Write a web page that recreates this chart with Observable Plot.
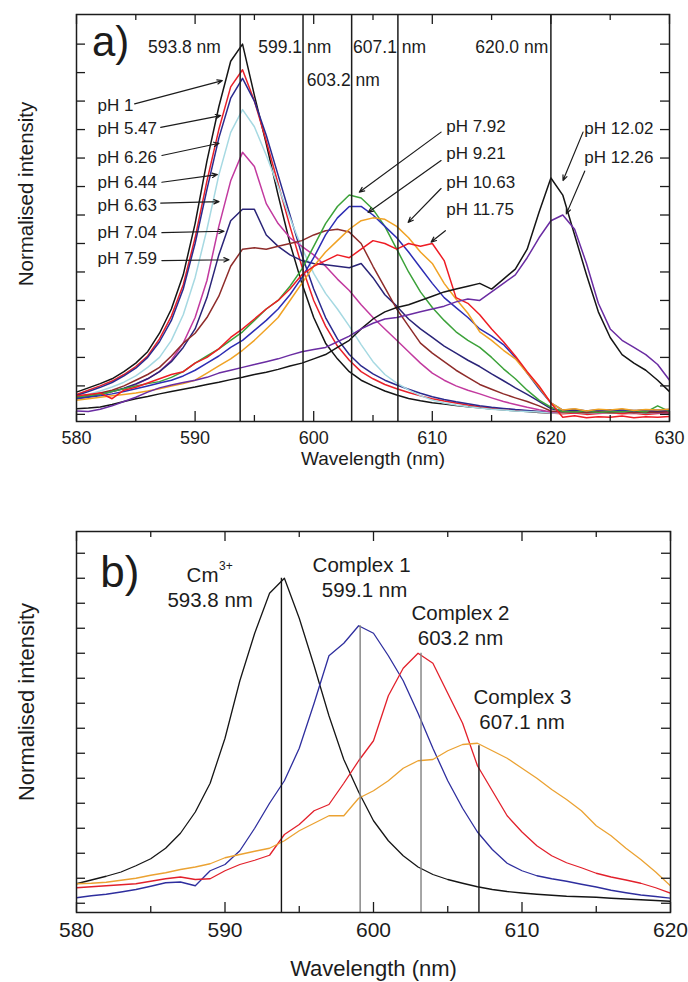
<!DOCTYPE html>
<html><head><meta charset="utf-8">
<script src="https://cdn.jsdelivr.net/npm/d3@7"></script>
<script src="https://cdn.jsdelivr.net/npm/@observablehq/plot@0.6"></script>
<style>
html,body{margin:0;padding:0;background:#fff;}
#chart{width:688px;}
#chart svg{display:block;}
</style></head><body><div id="chart"></div>
<script>
// ---------- Panel a data (wavelength 580..630 nm, 1 nm steps) ----------
const wavelengthsA = d3.range(580, 631);
const seriesA = ["pH 1","pH 5.47","pH 6.26","pH 6.44","pH 6.63","pH 7.04","pH 7.59","pH 7.92","pH 9.21","pH 10.63","pH 11.75","pH 12.02","pH 12.26"];
const colorsA = ["#151515","#e8202a","#2b2a8e","#a6d9e2","#c23a9f","#2a2478","#8e2c2a","#3ca23a","#2d2db4","#f0a224","#ee1c24","#151515","#6a2ca2"];

const pH_1    = [0.78,0.93,1.08,1.25,1.5,1.8,2.2,2.85,3.7,4.9,6.7, 8.9,10.8,12.4,13.0,11.2,9.5,7.7,6.0,4.6,3.4, 2.5,1.95,1.5,1.2,1.0,0.82,0.68,0.56,0.48,0.41, 0.36,0.31,0.27,0.23,0.19,0.16,0.13,0.1,0.07,0.05, 0.05,0.04,0.06,0.05,0.04,0.05,0.06,0.04,0.05,0.05];
const pH_5_47 = [0.7,0.85,1.0,1.17,1.4,1.68,2.05,2.65,3.45,4.55,6.2, 8.2,10.0,11.5,12.1,11.0,9.6,8.1,6.6,5.2,4.0, 3.1,2.4,1.9,1.5,1.25,1.05,0.9,0.77,0.65,0.55, 0.47,0.4,0.33,0.27,0.22,0.18,0.15,0.12,0.09,0.05, 0.02,0.05,0.0,0.03,0.06,0.02,0.04,0.0,0.03,0.05];
const pH_6_26 = [0.66,0.8,0.95,1.12,1.35,1.62,2.0,2.55,3.3,4.4,6.0, 7.9,9.7,11.1,11.8,11.0,9.8,8.4,7.0,5.6,4.4, 3.4,2.65,2.1,1.7,1.42,1.2,1.03,0.88,0.74,0.62, 0.52,0.44,0.37,0.3,0.25,0.21,0.17,0.14,0.1,0.06, 0.1,0.12,0.08,0.14,0.1,0.12,0.09,0.13,0.1,0.12];
const pH_6_44 = [0.6,0.7,0.82,0.96,1.13,1.35,1.65,2.0,2.6,3.5,4.8, 6.5,8.4,9.9,10.7,10.1,9.1,8.0,6.9,5.85,4.95, 4.25,3.7,3.1,2.45,1.85,1.4,1.1,0.86,0.66,0.5, 0.4,0.33,0.27,0.22,0.18,0.15,0.12,0.1,0.08,0.05, 0.06,0.08,0.05,0.07,0.06,0.08,0.05,0.07,0.06,0.07];
const pH_6_63 = [0.6,0.65,0.72,0.8,0.9,1.05,1.25,1.5,1.9,2.5,3.4, 4.7,6.6,8.2,9.2,8.7,7.4,6.7,6.2,5.9,5.6, 5.2,4.75,4.35,3.85,3.4,3.0,2.6,2.2,1.8,1.45, 1.2,1.0,0.85,0.72,0.58,0.45,0.35,0.25,0.16,0.08, 0.1,0.06,0.09,0.05,0.08,0.1,0.06,0.08,0.05,0.07];
const pH_7_04 = [0.55,0.62,0.7,0.8,0.92,1.07,1.25,1.5,1.85,2.35,3.0, 4.1,5.6,6.8,7.2,7.2,6.3,5.9,5.6,5.4,5.3, 5.25,5.2,5.15,5.3,4.8,4.2,3.8,3.35,3.0,2.7, 2.4,2.15,1.9,1.68,1.42,1.18,0.93,0.7,0.46,0.2, 0.12,0.15,0.1,0.13,0.16,0.11,0.14,0.1,0.13,0.12];
const pH_7_59 = [0.6,0.65,0.75,0.85,1.0,1.2,1.4,1.65,2.05,2.5,2.85, 3.4,4.15,5.2,5.8,5.85,5.8,5.9,6.0,6.1,6.3, 6.45,6.5,6.4,6.0,5.2,4.45,3.7,3.1,2.5,2.15, 1.85,1.55,1.3,1.05,0.88,0.72,0.58,0.45,0.3,0.12, 0.08,0.1,0.06,0.09,0.07,0.1,0.06,0.08,0.07,0.09];
const pH_7_92 = [0.6,0.65,0.7,0.8,0.9,1.0,1.08,1.15,1.3,1.5,1.8, 2.05,2.3,2.6,2.9,3.3,3.7,4.0,4.5,5.1,5.9, 6.7,7.3,7.7,7.6,7.2,6.6,5.8,5.0,4.3,3.75, 3.3,2.9,2.6,2.35,2.0,1.6,1.25,0.85,0.5,0.25, 0.1,0.08,0.12,0.07,0.1,0.09,0.13,0.08,0.3,0.1];
const pH_9_21 = [0.55,0.6,0.65,0.72,0.8,0.9,1.0,1.1,1.2,1.35,1.55, 1.8,2.05,2.35,2.6,2.95,3.3,3.7,4.2,4.8,5.5, 6.3,6.9,7.3,7.3,7.0,6.6,6.2,5.7,5.15,4.6, 4.1,3.75,3.4,3.0,2.75,2.45,2.0,1.45,0.9,0.4, 0.15,0.18,0.12,0.16,0.14,0.17,0.13,0.16,0.15,0.17];
const pH_10_63 = [0.5,0.55,0.6,0.65,0.7,0.75,0.82,0.9,1.0,1.08,1.2, 1.45,1.7,1.95,2.25,2.6,3.0,3.4,4.0,4.6,5.2, 5.7,6.1,6.5,6.8,6.9,6.85,6.6,6.2,5.7,5.3, 4.6,4.05,3.55,2.9,2.6,2.25,1.95,1.45,0.95,0.4, 0.15,0.2,0.12,0.18,0.15,0.2,0.14,0.17,0.15,0.18];
const pH_11_75 = [0.65,0.7,0.75,0.55,0.85,0.95,1.1,1.25,1.4,1.5,1.8, 2.0,2.3,2.7,3.0,3.35,3.7,4.0,4.4,4.9,5.2, 5.4,5.6,5.5,5.8,6.1,6.0,5.8,6.0,5.9,6.0, 5.4,4.1,3.9,3.5,3.0,2.55,2.05,1.5,1.0,0.4, -0.1,-0.05,-0.12,-0.08,-0.1,-0.06,-0.12,-0.08,-0.1,-0.07];
const pH_12_02 = [0.2,0.22,0.26,0.35,0.45,0.55,0.63,0.72,0.8,0.88,0.96, 1.05,1.13,1.22,1.3,1.4,1.48,1.58,1.7,1.8,1.95, 2.1,2.35,2.6,3.0,3.35,3.6,3.75,3.85,4.0,4.15, 4.3,4.4,4.5,4.6,4.4,4.75,5.1,5.8,7.1,8.3, 7.7,6.3,4.9,3.6,2.7,2.1,1.8,1.55,1.2,0.8];
const pH_12_26 = [0.12,0.1,0.18,0.3,0.45,0.6,0.78,0.93,1.03,1.12,1.2, 1.3,1.45,1.55,1.65,1.75,1.85,1.95,2.08,2.2,2.28, 2.35,2.55,2.75,3.0,3.2,3.35,3.4,3.5,3.6,3.7, 3.8,3.95,4.05,4.0,4.3,4.6,4.9,5.5,6.2,6.8, 7.0,6.5,5.3,3.9,3.0,2.6,2.35,2.1,1.75,1.2];
const valuesA = [pH_1,pH_5_47,pH_6_26,pH_6_44,pH_6_63,pH_7_04,pH_7_59,pH_7_92,pH_9_21,pH_10_63,pH_11_75,pH_12_02,pH_12_26];

// Marked wavelengths (panel a vertical lines) and their labels
const peakLinesA = [593.8, 599.1, 603.2, 607.1, 620.0];
const peakTextA = ["593.8 nm","599.1 nm","603.2 nm","607.1 nm","620.0 nm"];
const peakTextXA = [589.1, 598.4, 602.5, 606.4, 616.7];
const peakTextYA = [12.88, 12.88, 11.72, 12.88, 12.88];

// pH annotations (label anchor and arrow, data units)
const leftLabels = ["pH 1","pH 5.47","pH 6.26","pH 6.44","pH 6.63","pH 7.04","pH 7.59"];
const leftLabelY = [10.84, 10.02, 9.03, 8.15, 7.33, 6.40, 5.46];
const leftArrowX1 = [584.9, 587.1, 587.2, 587.2, 587.1, 587.2, 587.2];
const leftArrowY1 = [10.9, 10.08, 9.09, 8.15, 7.42, 6.38, 5.40];
const leftArrowX2 = [592.3, 592.16, 592.02, 591.88, 592.02, 592.44, 592.86];
const leftArrowY2 = [11.72, 10.49, 9.52, 8.42, 7.47, 6.43, 5.43];

const rightLabels = ["pH 7.92","pH 9.21","pH 10.63","pH 11.75","pH 12.02","pH 12.26"];
const rightLabelX = [611.17, 611.17, 611.17, 611.17, 622.82, 622.82];
const rightLabelY = [10.11, 9.15, 8.15, 7.18, 10.04, 9.02];
const rightArrowX1 = [610.74, 610.74, 610.74, 611.1, 622.71, 622.85];
const rightArrowY1 = [9.91, 8.91, 7.93, 6.45, 9.91, 8.54];
const rightArrowX2 = [603.84, 604.58, 607.96, 609.9, 621.02, 621.3];
const rightArrowY2 = [7.80, 7.09, 6.74, 6.05, 8.21, 7.04];

// ---------- Panel b data (580..620 nm, 1 nm steps) ----------
const wavelengthsB = d3.range(580, 621);
const seriesB = ["Cm3+","Complex 1","Complex 2","Complex 3"];
const colorsB = ["#151515","#2e2e9e","#e2202b","#eba232"];
const cmAquo   = [0.78,0.93,1.08,1.25,1.5,1.78,2.2,2.8,3.65,4.8,6.6, 8.9,10.8,12.4,13.0,11.4,9.5,7.5,5.75,4.45,3.3, 2.5,1.9,1.45,1.15,0.95,0.8,0.66,0.55,0.47,0.41, 0.36,0.32,0.28,0.26,0.24,0.2,0.17,0.14,0.11,0.08];
const complex1 = [0.22,0.3,0.36,0.45,0.55,0.68,0.82,0.85,0.7,1.3,1.55, 2.1,3.0,4.0,4.9,6.2,8.0,9.9,10.4,11.1,10.8, 9.9,8.9,7.6,6.2,4.9,3.8,2.85,2.15,1.6,1.3, 1.1,0.98,0.88,0.76,0.65,0.52,0.42,0.33,0.27,0.2];
const complex2 = [0.62,0.66,0.7,0.74,0.78,0.88,0.98,1.05,0.95,0.98,1.3, 1.55,1.72,1.92,2.75,3.15,3.7,3.95,4.8,5.7,6.5, 8.3,9.4,10.0,9.6,8.4,7.2,5.5,4.5,3.5,2.85, 2.3,1.9,1.62,1.42,1.2,1.05,0.93,0.8,0.62,0.4];
const complex3 = [0.78,0.8,0.84,0.92,1.0,1.12,1.22,1.35,1.45,1.58,1.82, 1.95,2.08,2.2,2.5,2.9,3.2,3.5,3.5,4.2,4.5, 4.9,5.4,5.7,5.75,6.1,6.35,6.4,6.1,5.8,5.4, 5.0,4.55,4.15,3.7,3.1,2.7,2.2,1.75,1.25,0.7];
const valuesB = [cmAquo, complex1, complex2, complex3];

const peakLinesB = [593.8, 599.1, 603.2, 607.1];
const peakTopsB = [13.0, 11.1, 10.0, 6.3];
const peakLineColorsB = ["#151515","#808080","#808080","#151515"];
const complexTextB = ["Complex 1","Complex 2","Complex 3"];
const complexXB = [599.2, 605.86, 610.03];
const complexYB = [13.5, 11.59, 8.23];
const nmTextB = ["593.8 nm","599.1 nm","603.2 nm","607.1 nm"];
const nmXB = [589.0, 599.4, 605.86, 610.0];
const nmYB = [12.1, 12.5, 10.59, 7.23];

// ---------- layout constants ----------
const W = 688;
const font = "'Liberation Sans', Arial, Helvetica, sans-serif";
const ink = "#1c1c1c";

// ---------- Panel a ----------
const yDomA = [-0.25, 14.04];
const mA = {top: 14, right: 19, bottom: 69, left: 76};
const hA = 490;
const fwA = W - mA.left - mA.right, fhA = hA - mA.top - mA.bottom;
const rowsA = seriesA.flatMap((s, i) => valuesA[i].map((v, j) => ({wl: wavelengthsA[j], v, s})));
const leftRows = leftLabels.map((t, i) => ({t, y: leftLabelY[i], x1: leftArrowX1[i], y1: leftArrowY1[i], x2: leftArrowX2[i], y2: leftArrowY2[i]}));
const rightRows = rightLabels.map((t, i) => ({t, x: rightLabelX[i], y: rightLabelY[i], x1: rightArrowX1[i], y1: rightArrowY1[i], x2: rightArrowX2[i], y2: rightArrowY2[i]}));
const peakRowsA = peakTextA.map((t, i) => ({t, x: peakTextXA[i], y: peakTextYA[i]}));

const xMajorA = [580,590,600,610,620,630], xMinorA = [585,595,605,615,625];
const yTicksA = d3.range(0, 14);

const plotA = Plot.plot({
  width: W, height: hA,
  marginTop: mA.top, marginRight: mA.right, marginBottom: mA.bottom, marginLeft: mA.left,
  style: {fontFamily: font, color: ink, background: "#fff", overflow: "visible"},
  x: {domain: [580, 630]},
  y: {domain: yDomA, axis: null},
  color: {domain: seriesA, range: colorsA},
  marks: [
    Plot.line(rowsA, {x: "wl", y: "v", z: "s", stroke: "s", strokeWidth: 1.5, clip: true}),
    Plot.ruleX(peakLinesA, {x: d => d, stroke: ink, strokeWidth: 1.5}),
    Plot.tickX(xMajorA, {x: d => d, insetTop: fhA - 10, stroke: ink, strokeWidth: 1.3}),
    Plot.tickX(xMajorA, {x: d => d, insetBottom: fhA - 10, stroke: ink, strokeWidth: 1.3}),
    Plot.tickX(xMinorA, {x: d => d, insetTop: fhA - 6, stroke: ink, strokeWidth: 1.3}),
    Plot.tickX(xMinorA, {x: d => d, insetBottom: fhA - 6, stroke: ink, strokeWidth: 1.3}),
    Plot.tickY(yTicksA, {y: d => d, insetRight: fwA - 9, stroke: ink, strokeWidth: 1.3}),
    Plot.tickY(yTicksA, {y: d => d, insetLeft: fwA - 9, stroke: ink, strokeWidth: 1.3}),
    Plot.axisX({ticks: xMajorA, tickSize: 0, tickPadding: 10, fontSize: 18, label: null, tickFormat: d => String(d)}),
    Plot.text(["Wavelength (nm)"], {frameAnchor: "bottom", lineAnchor: "middle", dy: 37, fontSize: 19, fill: ink}),
    Plot.text(["Normalised intensity"], {frameAnchor: "left", textAnchor: "middle", lineAnchor: "middle", rotate: -90, dx: -50, dy: -24, fontSize: 20.5, fill: ink}),
    Plot.text(["a)"], {x: 581.3, y: 13.05, textAnchor: "start", fontSize: 42, fill: ink}),
    Plot.text(peakRowsA, {x: "x", y: "y", text: "t", fontSize: 17.5, fill: ink}),
    Plot.arrow(leftRows, {x1: "x1", y1: "y1", x2: "x2", y2: "y2", stroke: ink, strokeWidth: 1.2, headLength: 7, headAngle: 45}),
    Plot.text(leftRows, {x: 581.77, y: "y", text: "t", textAnchor: "start", fontSize: 17, fill: ink}),
    Plot.arrow(rightRows, {x1: "x1", y1: "y1", x2: "x2", y2: "y2", stroke: ink, strokeWidth: 1.2, headLength: 7, headAngle: 45}),
    Plot.text(rightRows, {x: "x", y: "y", text: "t", textAnchor: "start", fontSize: 17, fill: ink}),
    Plot.frame({stroke: ink, strokeWidth: 1.5})
  ]
});

// ---------- Panel b ----------
const yDomB = [-0.37, 14.87];
const mB = {top: 41, right: 18, bottom: 70, left: 76};
const hB = 492;
const fwB = W - mB.left - mB.right, fhB = hB - mB.top - mB.bottom;
const rowsB = seriesB.flatMap((s, i) => valuesB[i].map((v, j) => ({wl: wavelengthsB[j], v, s})));
const ruleRowsB = peakLinesB.map((x, i) => ({x, top: peakTopsB[i], c: peakLineColorsB[i]}));
const complexRowsB = complexTextB.map((t, i) => ({t, x: complexXB[i], y: complexYB[i]}));
const nmRowsB = nmTextB.map((t, i) => ({t, x: nmXB[i], y: nmYB[i]}));
const xMajorB = [580,590,600,610,620], xMinorB = [585,595,605,615];
const yTicksB = d3.range(0, 15);

const plotB = Plot.plot({
  width: W, height: hB,
  marginTop: mB.top, marginRight: mB.right, marginBottom: mB.bottom, marginLeft: mB.left,
  style: {fontFamily: font, color: ink, background: "#fff", overflow: "visible"},
  x: {domain: [580, 620]},
  y: {domain: yDomB, axis: null},
  color: {domain: seriesB, range: colorsB},
  marks: [
    Plot.line(rowsB, {x: "wl", y: "v", z: "s", stroke: "s", strokeWidth: 1.3, clip: true}),
    Plot.ruleX(ruleRowsB, {x: "x", y1: () => yDomB[0], y2: "top", stroke: "c", strokeWidth: 1.4}),
    Plot.tickX(xMajorB, {x: d => d, insetTop: fhB - 10, stroke: ink, strokeWidth: 1.3}),
    Plot.tickX(xMajorB, {x: d => d, insetBottom: fhB - 10, stroke: ink, strokeWidth: 1.3}),
    Plot.tickX(xMinorB, {x: d => d, insetTop: fhB - 6, stroke: ink, strokeWidth: 1.3}),
    Plot.tickX(xMinorB, {x: d => d, insetBottom: fhB - 6, stroke: ink, strokeWidth: 1.3}),
    Plot.tickY(yTicksB, {y: d => d, insetRight: fwB - 9, stroke: ink, strokeWidth: 1.3}),
    Plot.tickY(yTicksB, {y: d => d, insetLeft: fwB - 9, stroke: ink, strokeWidth: 1.3}),
    Plot.axisX({ticks: xMajorB, tickSize: 0, tickPadding: 10, fontSize: 21, label: null, tickFormat: d => String(d)}),
    Plot.text(["Wavelength (nm)"], {frameAnchor: "bottom", lineAnchor: "middle", dy: 56, fontSize: 22, fill: ink}),
    Plot.text(["Normalised intensity"], {frameAnchor: "left", textAnchor: "middle", lineAnchor: "middle", rotate: -90, dx: -50, dy: -20, fontSize: 22, fill: ink}),
    Plot.text(["b)"], {x: 581.6, y: 13.2, textAnchor: "start", fontSize: 44, fill: ink}),
    Plot.text(["Cm"], {x: 589.56, y: 13.1, textAnchor: "end", fontSize: 20.5, fill: ink}),
    Plot.text(["3+"], {x: 589.6, y: 13.5, textAnchor: "start", fontSize: 12, fill: ink}),
    Plot.text(complexRowsB, {x: "x", y: "y", text: "t", fontSize: 20.5, fill: ink}),
    Plot.text(nmRowsB, {x: "x", y: "y", text: "t", fontSize: 20.5, fill: ink}),
    Plot.frame({stroke: ink, strokeWidth: 1.5})
  ]
});

document.getElementById("chart").append(plotA, plotB);
</script>
</body></html>
